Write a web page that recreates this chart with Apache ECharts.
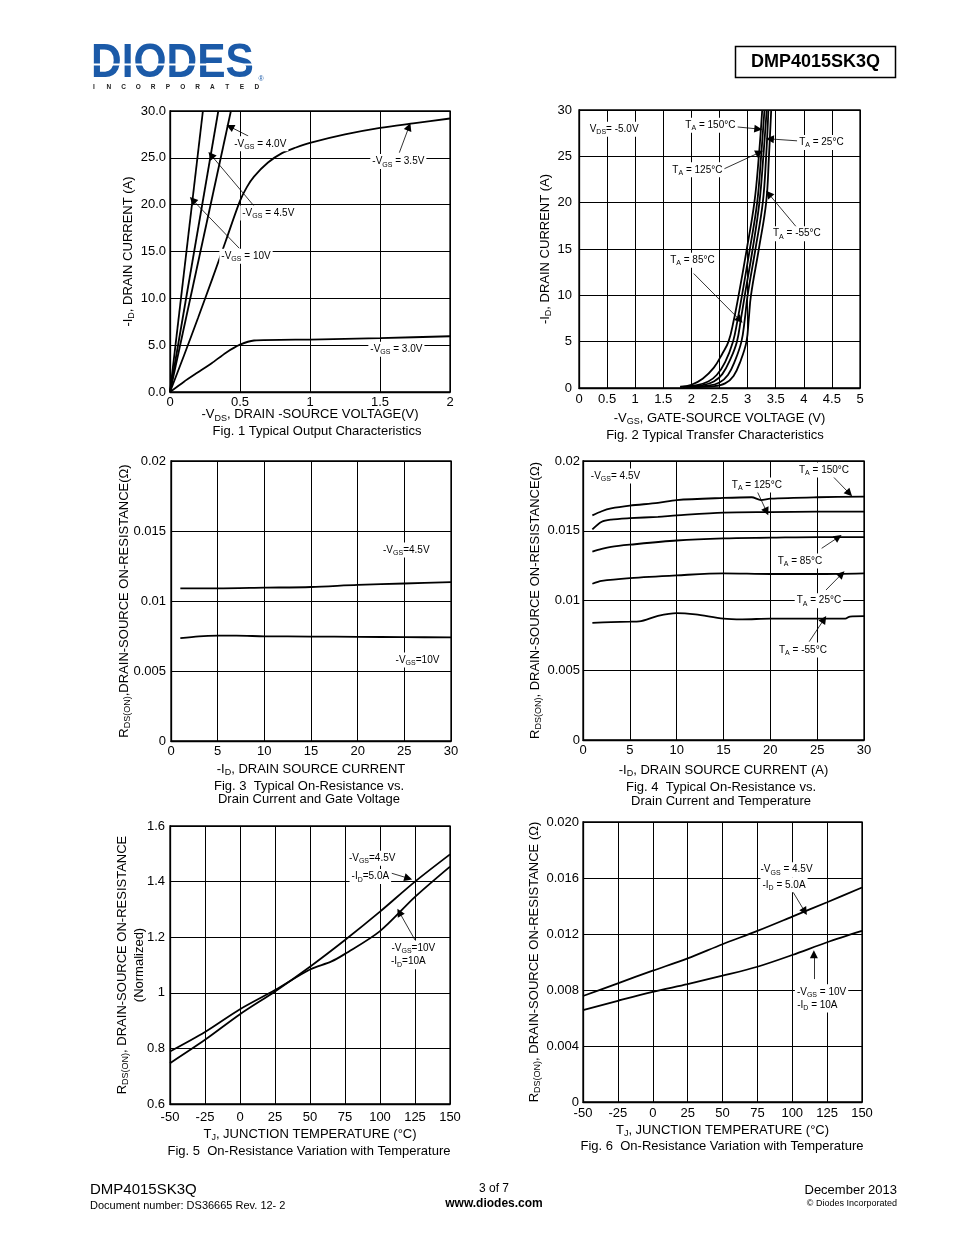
<!DOCTYPE html>
<html>
<head>
<meta charset="utf-8">
<script src="https://cdn.jsdelivr.net/npm/echarts@6.0.0/dist/echarts.min.js"></script>
<style>
html,body{margin:0;padding:0;background:#fff;}
#main{width:954px;height:1235px;}
</style>
</head>
<body>
<div id="main"></div>
<script>
// ---------------- DATA ----------------
// Fig 1 : Typical Output Characteristics  [-VDS (V), -ID (A)]
const fig1XTicks = ['0', '0.5', '1', '1.5', '2'];
const fig1YTicks = ['0.0', '5.0', '10.0', '15.0', '20.0', '25.0', '30.0'];
const fig1Vgs10 = [[0, 0], [0.235, 30]];
const fig1Vgs45 = [[0, 0], [0.345, 30]];
const fig1Vgs40 = [[0, 0], [0.435, 30]];
const fig1Vgs35 = [[0, 0], [0.1, 3.9], [0.2, 7.9], [0.3, 12.0], [0.4, 16.2], [0.5, 20.4], [0.55, 21.9], [0.6, 23.0], [0.7, 24.5], [0.8, 25.5], [0.9, 26.1], [1.0, 26.6], [1.25, 27.5], [1.5, 28.2], [1.75, 28.7], [2.0, 29.2]];
const fig1Vgs30 = [[0, 0], [0.1, 1.1], [0.2, 2.1], [0.3, 3.1], [0.4, 4.2], [0.5, 5.05], [0.6, 5.5], [1.0, 5.6], [1.5, 5.75], [2.0, 5.95]];
const fig1Labels = [
  ['-V[GS] = 4.0V', 0.645, 26.5], ['-V[GS] = 3.5V', 1.631, 24.6], ['-V[GS] = 4.5V', 0.702, 19.1],
  ['-V[GS] = 10V', 0.543, 14.5], ['-V[GS] = 3.0V', 1.617, 4.56]
];
const fig1Arrows = [
  [[0.559, 27.33], [0.429, 28.32]], [[1.638, 25.55], [1.707, 28.32]],
  [[0.60, 19.86], [0.293, 25.3]], [[0.495, 15.34], [0.162, 20.5]]
];

// Fig 2 : Typical Transfer Characteristics  [-VGS (V), -ID (A)]
const fig2XTicks = ['0', '0.5', '1', '1.5', '2', '2.5', '3', '3.5', '4', '4.5', '5'];
const fig2YTicks = ['0', '5', '10', '15', '20', '25', '30'];
const fig2T150 = [[1.8, 0.15], [2.0, 0.35], [2.2, 1.0], [2.4, 2.2], [2.55, 3.7], [2.66, 5], [2.75, 7.2], [2.84, 10], [2.98, 14.8], [3.12, 20], [3.2, 25], [3.26, 30]];
const fig2T125 = [[1.8, 0.1], [2.1, 0.3], [2.3, 0.7], [2.45, 1.4], [2.6, 2.8], [2.74, 5], [2.82, 7.3], [2.9, 10], [3.04, 15], [3.17, 20], [3.24, 25], [3.3, 30]];
const fig2T85 = [[1.85, 0.1], [2.2, 0.3], [2.4, 0.7], [2.55, 1.5], [2.7, 3.2], [2.81, 5], [2.88, 7.4], [2.95, 10], [3.09, 15], [3.21, 20], [3.28, 25], [3.34, 30]];
const fig2T25 = [[1.9, 0.1], [2.3, 0.25], [2.5, 0.6], [2.65, 1.4], [2.78, 3.0], [2.89, 5], [2.95, 7.4], [3.0, 10], [3.14, 15], [3.27, 20], [3.33, 25], [3.37, 30]];
const fig2Tm55 = [[2.0, 0.1], [2.4, 0.2], [2.6, 0.5], [2.75, 1.3], [2.88, 3.0], [2.98, 5], [3.02, 7.4], [3.06, 10], [3.2, 15], [3.33, 20], [3.38, 25], [3.42, 30]];
const fig2Labels = [
  ['V[DS]= -5.0V', 0.625, 27.93], ['T[A] = 150°C', 2.338, 28.36], ['T[A] = 125°C', 2.107, 23.55],
  ['T[A] = 25°C', 4.313, 26.49], ['T[A] = -55°C', 3.877, 16.65], ['T[A] = 85°C', 2.018, 13.78]
];
const fig2Arrows = [
  [[2.819, 28.17], [3.19, 27.95]], [[2.546, 23.55], [3.21, 25.41]], [[3.886, 26.67], [3.397, 26.88]],
  [[3.88, 17.29], [3.376, 20.95]], [[2.041, 12.35], [2.86, 7.34]]
];

// Fig 3 : On-Resistance vs Drain Current and Gate Voltage [-ID (A), RDS(on) (ohm)]
const fig3XTicks = ['0', '5', '10', '15', '20', '25', '30'];
const fig3YTicks = ['0', '0.005', '0.01', '0.015', '0.02'];
const fig3Vgs45 = [[1, 0.0109], [5, 0.0109], [10, 0.01095], [15, 0.0110], [20, 0.01115], [25, 0.01125], [30, 0.01135]];
const fig3Vgs10 = [[1, 0.00735], [3, 0.00748], [5, 0.00752], [7, 0.00752], [10, 0.00748], [15, 0.00746], [20, 0.00744], [25, 0.00742], [30, 0.0074]];
const fig3Labels = [['-V[GS]=4.5V', 25.21, 0.01364], ['-V[GS]=10V', 26.41, 0.00579]];

// Fig 4 : On-Resistance vs Drain Current and Temperature [-ID (A), RDS(on) (ohm)]
const fig4XTicks = ['0', '5', '10', '15', '20', '25', '30'];
const fig4YTicks = ['0', '0.005', '0.01', '0.015', '0.02'];
const fig4T150 = [[1, 0.0161], [2, 0.0164], [3, 0.0166], [5, 0.0168], [8, 0.0170], [10, 0.0172], [15, 0.01735], [18, 0.0174], [19, 0.0172], [20, 0.0173], [25, 0.0174], [30, 0.01745]];
const fig4T125 = [[1, 0.0151], [2, 0.01565], [3, 0.0158], [5, 0.0159], [8, 0.0160], [10, 0.0161], [15, 0.0163], [20, 0.01634], [25, 0.01637], [30, 0.01637]];
const fig4T85 = [[1, 0.0135], [2, 0.0137], [3, 0.01385], [5, 0.0140], [10, 0.0143], [15, 0.01445], [20, 0.0145], [25, 0.01455], [30, 0.01455]];
const fig4T25 = [[1, 0.0112], [2, 0.0114], [5, 0.0116], [10, 0.0118], [15, 0.01195], [20, 0.0119], [25, 0.0119], [30, 0.01195]];
const fig4Tm55 = [[1, 0.0084], [3, 0.00845], [5, 0.00848], [6, 0.0085], [8, 0.0089], [10, 0.0091], [12, 0.0090], [15, 0.0087], [17, 0.00865], [20, 0.0087], [25, 0.0087], [28, 0.0087], [28.5, 0.00885], [30, 0.00888]];
const fig4Labels = [
  ['-V[GS]= 4.5V', 3.47, 0.01892], ['T[A] = 150°C', 25.73, 0.01935], ['T[A] = 125°C', 18.56, 0.01828],
  ['T[A] = 85°C', 23.16, 0.01283], ['T[A] = 25°C', 25.19, 0.00999], ['T[A] = -55°C', 23.48, 0.00645]
];
const fig4Arrows = [
  [[26.72, 0.01887], [28.43, 0.01768]], [[18.53, 0.01792], [19.6, 0.01637]], [[25.48, 0.01374], [27.25, 0.01453]],
  [[25.94, 0.01075], [27.62, 0.0119]], [[24.15, 0.00705], [25.73, 0.00865]]
];

// Fig 5 : Normalized On-Resistance vs Temperature [TJ (°C), normalized]
const fig5XTicks = ['-50', '-25', '0', '25', '50', '75', '100', '125', '150'];
const fig5YTicks = ['0.6', '0.8', '1', '1.2', '1.4', '1.6'];
const fig5Vgs45 = [[-50, 0.747], [-25, 0.831], [0, 0.923], [25, 1.005], [50, 1.094], [75, 1.19], [100, 1.292], [125, 1.40], [150, 1.498]];
const fig5Vgs10 = [[-50, 0.789], [-25, 0.859], [0, 0.941], [25, 1.01], [50, 1.084], [65, 1.112], [75, 1.14], [100, 1.222], [125, 1.345], [150, 1.454]];
const fig5Labels = [
  ['-V[GS]=4.5V', 94.4, 1.484], ['-I[D]=5.0A', 93.1, 1.418],
  ['-V[GS]=10V', 123.8, 1.161], ['-I[D]=10A', 120.2, 1.112]
];
const fig5Arrows = [[[108.4, 1.430], [120.2, 1.412]], [[125, 1.190], [113.8, 1.290]]];

// Fig 6 : On-Resistance vs Temperature [TJ (°C), RDS(on) (ohm)]
const fig6XTicks = ['-50', '-25', '0', '25', '50', '75', '100', '125', '150'];
const fig6YTicks = ['0', '0.004', '0.008', '0.012', '0.016', '0.020'];
const fig6Vgs45 = [[-50, 0.00757], [-25, 0.00848], [0, 0.00938], [25, 0.01026], [50, 0.01127], [75, 0.01222], [100, 0.01324], [125, 0.01427], [150, 0.01532]];
const fig6Vgs10 = [[-50, 0.00656], [-25, 0.00723], [0, 0.00787], [25, 0.00842], [50, 0.00902], [75, 0.00966], [100, 0.0105], [125, 0.01141], [150, 0.01222]];
const fig6Labels = [
  ['-V[GS] = 4.5V', 95.9, 0.01659], ['-I[D] = 5.0A', 94.1, 0.01551],
  ['-V[GS] = 10V', 121, 0.00787], ['-I[D] = 10A', 118, 0.00692]
];
const fig6Arrows = [[[100.6, 0.01499], [109, 0.0136]], [[115.5, 0.00878], [115.5, 0.01055]]];

// ---------------- RENDER ----------------
const FONT = "'Liberation Sans', Arial, Helvetica, sans-serif";
function rt(str) { return '{n|' + str.replace(/\[([^\]]*)\]/g, '}{s|$1}{n|') + '}'; }
function richSet(size, lh) {
  const ss = Math.round(size * 0.72);
  return {
    n: { fontSize: size, lineHeight: lh || Math.round(size * 1.3), fontFamily: FONT, color: '#000' },
    s: { fontSize: ss, lineHeight: ss, verticalAlign: 'bottom', fontFamily: FONT, color: '#000' }
  };
}

const chart = echarts.init(document.getElementById('main'), null, { renderer: 'canvas' });

const grids = [
  { left: 170, top: 111, width: 280, height: 281 },
  { left: 579, top: 110, width: 281, height: 278 },
  { left: 171, top: 461, width: 280, height: 280 },
  { left: 583, top: 461, width: 281, height: 279 },
  { left: 170, top: 826, width: 280, height: 278 },
  { left: 583, top: 822, width: 279, height: 280 }
];

function xAxis(i, min, max, interval, ticks, name, gap, margin) {
  return {
    type: 'value', gridIndex: i, min, max, interval,
    axisLine: { show: true, onZero: false, lineStyle: { color: '#000', width: 1.3 } },
    axisTick: { show: false },
    splitLine: { show: true, lineStyle: { color: '#000', width: 1 } },
    axisLabel: { color: '#000', fontSize: 13, fontFamily: FONT, margin: margin,
      formatter: v => ticks[Math.round((v - min) / interval)] },
    name: rt(name), nameLocation: 'middle', nameGap: gap, nameMoveOverlap: false,
    nameTextStyle: { rich: richSet(13, 17) }
  };
}
function yAxis(i, min, max, interval, ticks, name, gap, margin) {
  return {
    type: 'value', gridIndex: i, min, max, interval,
    axisLine: { show: true, onZero: false, lineStyle: { color: '#000', width: 1.3 } },
    axisTick: { show: false },
    splitLine: { show: true, lineStyle: { color: '#000', width: 1 } },
    axisLabel: { color: '#000', fontSize: 13, fontFamily: FONT, margin: margin,
      formatter: v => ticks[Math.round((v - min) / interval)] },
    name: rt(name), nameLocation: 'middle', nameGap: gap, nameRotate: 90, nameMoveOverlap: false,
    nameTextStyle: { rich: richSet(13, 17) }
  };
}

function line(i, data, smooth, extra) {
  return Object.assign({
    type: 'line', xAxisIndex: i, yAxisIndex: i, data: data,
    showSymbol: false, symbol: 'none', smooth: smooth, animation: false, silent: true,
    lineStyle: { color: '#000', width: 1.8 }, z: 3
  }, extra || {});
}
function notes(labels, arrows, size) {
  const out = {};
  out.markPoint = {
    silent: true, animation: false, symbol: 'rect', symbolSize: 0.01,
    itemStyle: { color: 'rgba(0,0,0,0)' },
    data: labels.map(l => ({
      coord: [l[1], l[2]],
      label: { show: true, position: 'inside', formatter: () => rt(l[0]),
        backgroundColor: '#fff', padding: [1, 2, 1, 2], rich: richSet(size || 10) }
    }))
  };
  if (arrows && arrows.length) {
    out.markLine = {
      silent: true, animation: false, symbol: ['none', 'triangle'], symbolSize: 8,
      label: { show: false },
      lineStyle: { color: '#000', width: 0.8, type: 'solid' },
      itemStyle: { color: '#000' },
      data: arrows.map(a => [{ coord: a[0] }, { coord: a[1] }])
    };
  }
  return out;
}

const series = [
  line(0, fig1Vgs10, false, notes(fig1Labels, fig1Arrows)),
  line(0, fig1Vgs45, false), line(0, fig1Vgs40, false), line(0, fig1Vgs35, 0.3), line(0, fig1Vgs30, 0.2),
  line(1, fig2T150, 0.4, notes(fig2Labels, fig2Arrows)),
  line(1, fig2T125, 0.4), line(1, fig2T85, 0.4), line(1, fig2T25, 0.4), line(1, fig2Tm55, 0.4),
  line(2, fig3Vgs45, 0.3, notes(fig3Labels, [])), line(2, fig3Vgs10, 0.3),
  line(3, fig4T150, 0.3, notes(fig4Labels, fig4Arrows)),
  line(3, fig4T125, 0.3), line(3, fig4T85, 0.3), line(3, fig4T25, 0.3), line(3, fig4Tm55, 0.3),
  line(4, fig5Vgs45, 0.3, notes(fig5Labels, fig5Arrows)), line(4, fig5Vgs10, 0.3),
  line(5, fig6Vgs45, 0.3, notes(fig6Labels, fig6Arrows)), line(5, fig6Vgs10, 0.3)
];

function txt(text, x, y, size, opts) {
  return Object.assign({
    type: 'text', x: x, y: y, silent: true,
    style: Object.assign({ text: text, fontSize: size, fontFamily: FONT, fill: '#000',
      align: 'center', verticalAlign: 'middle' }, (opts && opts.style) || {})
  }, (opts && opts.el) || {});
}

const letters = 'INCORPORATED'.split('');
const graphics = [
  // logo
  { type: 'text', x: 91, y: 64, scaleX: 0.885, silent: true,
    style: { text: 'DIODES', fontSize: 48, fontWeight: 900, fontFamily: FONT, fill: '#1b5aa8',
      align: 'left', verticalAlign: 'middle' } },
  { type: 'rect', silent: true, shape: { x: 92, y: 63.5, width: 166, height: 2 }, style: { fill: '#fff' } },
  { type: 'text', x: 261, y: 79, silent: true,
    style: { text: '®', fontSize: 7, fontFamily: FONT, fill: '#1b5aa8', align: 'center', verticalAlign: 'middle' } }
].concat(letters.map((c, k) => txt(c, 94 + k * 14.8, 87.5, 6.5, { style: { fontWeight: 'bold', fill: '#222' } })))
.concat([
  { type: 'rect', silent: true, shape: { x: 735.5, y: 46.5, width: 160, height: 31 },
    style: { fill: 'none', stroke: '#000', lineWidth: 1.5 } },
  txt('DMP4015SK3Q', 815.5, 62.5, 18, { style: { fontWeight: 'bold' } }),
  // captions
  txt('Fig. 1 Typical Output Characteristics', 317, 431, 13),
  txt('Fig. 2 Typical Transfer Characteristics', 715, 435, 13),
  txt('Fig. 3  Typical On-Resistance vs.', 309, 786, 13),
  txt('Drain Current and Gate Voltage', 309, 799, 13),
  txt('Fig. 4  Typical On-Resistance vs.', 721, 787, 13),
  txt('Drain Current and Temperature', 721, 801, 13),
  txt('Fig. 5  On-Resistance Variation with Temperature', 309, 1151, 13),
  txt('Fig. 6  On-Resistance Variation with Temperature', 722, 1146, 13),
  // footer
  txt('DMP4015SK3Q', 90, 1190, 15, { style: { align: 'left' } }),
  txt('Document number: DS36665 Rev. 12- 2', 90, 1206, 11, { style: { align: 'left' } }),
  txt('3 of 7', 494, 1189, 12),
  txt('www.diodes.com', 494, 1204, 12, { style: { fontWeight: 'bold' } }),
  txt('December 2013', 897, 1190, 13, { style: { align: 'right' } }),
  txt('© Diodes Incorporated', 897, 1204, 9, { style: { align: 'right' } })
]);

const option = {
  backgroundColor: '#fff',
  animation: false,
  grid: grids.map(g => Object.assign({ show: true, borderColor: '#000', borderWidth: 1.3, backgroundColor: 'transparent', containLabel: false }, g)),
  xAxis: [
    xAxis(0, 0, 2, 0.5, fig1XTicks, '-V[DS], DRAIN -SOURCE VOLTAGE(V)', 14, 4),
    xAxis(1, 0, 5, 0.5, fig2XTicks, '-V[GS], GATE-SOURCE VOLTAGE (V)', 21.5, 5),
    xAxis(2, 0, 30, 5, fig3XTicks, '-I[D], DRAIN SOURCE CURRENT', 19.5, 4),
    xAxis(3, 0, 30, 5, fig4XTicks, '-I[D], DRAIN SOURCE CURRENT (A)', 21.5, 4),
    xAxis(4, -50, 150, 25, fig5XTicks, 'T[J], JUNCTION TEMPERATURE (°C)', 21.5, 7),
    xAxis(5, -50, 150, 25, fig6XTicks, 'T[J], JUNCTION TEMPERATURE (°C)', 19.5, 5)
  ],
  yAxis: [
    yAxis(0, 0, 30, 5, fig1YTicks, '-I[D], DRAIN CURRENT (A)', 33.5, 4),
    yAxis(1, 0, 30, 5, fig2YTicks, '-I[D], DRAIN CURRENT (A)', 25.5, 7),
    yAxis(2, 0, 0.02, 0.005, fig3YTicks, 'R[DS(ON)],DRAIN-SOURCE ON-RESISTANCE(Ω)', 38.5, 5),
    yAxis(3, 0, 0.02, 0.005, fig4YTicks, 'R[DS(ON)], DRAIN-SOURCE ON-RESISTANCE(Ω)', 39.5, 3),
    Object.assign(yAxis(4, 0.6, 1.6, 0.2, fig5YTicks, 'R[DS(ON)], DRAIN-SOURCE ON-RESISTANCE', 22.5, 5), {
      name: rt('R[DS(ON)], DRAIN-SOURCE ON-RESISTANCE') + '\n' + rt('(Normalized)')
    }),
    yAxis(5, 0, 0.02, 0.004, fig6YTicks, 'R[DS(ON)], DRAIN-SOURCE ON-RESISTANCE (Ω)', 40.5, 4)
  ],
  series: series,
  graphic: { elements: graphics }
};
chart.setOption(option);
</script>
</body>
</html>
